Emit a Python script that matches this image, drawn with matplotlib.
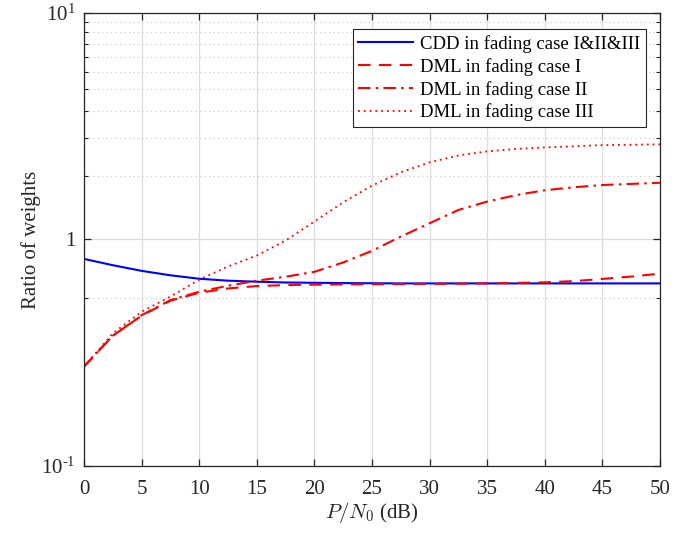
import numpy as np
import matplotlib
matplotlib.use('Agg')
import matplotlib.pyplot as plt
from matplotlib.ticker import FixedLocator

# values
snr_db = [0, 2.5, 5, 7.5, 10, 12.5, 15, 17.5, 20, 22.5, 25,
          27.5, 30, 32.5, 35, 37.5, 40, 42.5, 45, 47.5, 50]

cdd_all = [0.821, 0.770, 0.727, 0.695, 0.671, 0.658, 0.651, 0.646, 0.644, 0.642, 0.641,
           0.640, 0.640, 0.640, 0.640, 0.640, 0.640, 0.640, 0.640, 0.640, 0.640]
dml_case1 = [0.275, 0.376, 0.461, 0.537, 0.582, 0.608, 0.623, 0.629, 0.632, 0.634, 0.635,
             0.636, 0.637, 0.638, 0.640, 0.643, 0.647, 0.655, 0.670, 0.686, 0.707]
dml_case2 = [0.275, 0.376, 0.463, 0.540, 0.588, 0.625, 0.658, 0.685, 0.720, 0.792, 0.891,
             1.03, 1.18, 1.35, 1.47, 1.57, 1.65, 1.70, 1.74, 1.76, 1.78]
dml_case3 = [0.275, 0.385, 0.480, 0.560, 0.665, 0.760, 0.850, 0.990, 1.20, 1.46, 1.73,
             1.98, 2.19, 2.35, 2.45, 2.51, 2.55, 2.58, 2.61, 2.62, 2.63]

labels = ['CDD in fading case I&II&III', 'DML in fading case I',
          'DML in fading case II', 'DML in fading case III']

y_major = [0.1, 1, 10]
y_major_labels = [r'$\mathregular{10^{\text{-}1}}$', '1', r'$\mathregular{10^{1}}$']
# minor ticks as they appear in the original (linear between majors)
y_minor = [0.55, 1.9, 2.8, 3.7, 4.6, 5.5, 6.4, 7.3, 8.2, 9.1]

plt.rcParams['font.family'] = ['Liberation Serif', 'DejaVu Serif']
plt.rcParams['mathtext.fontset'] = 'stix'

fig = plt.figure(figsize=(6.92, 5.34), dpi=100)
ax = fig.add_axes([0.1214, 0.1273, 0.8324, 0.8484])

ax.plot(snr_db, cdd_all, color='#0000ff', lw=1.5, ls='-', label=labels[0])
ax.plot(snr_db, dml_case1, color='#ff0000', lw=1.5, ls=(0, (6, 4)), label=labels[1])
ax.plot(snr_db, dml_case2, color='#ff0000', lw=1.5, ls=(0, (6, 2.5, 1.2, 2.5)), label=labels[2])
ax.plot(snr_db, dml_case3, color='#ff0000', lw=1.3, ls=(0, (1, 2.2)), label=labels[3])

ax.set_yscale('log')
ax.set_xlim(0, 50)
ax.set_ylim(0.1, 10)
ax.set_xticks(np.arange(0, 51, 5))
ax.yaxis.set_major_locator(FixedLocator(y_major))
ax.set_yticklabels(y_major_labels)
ax.yaxis.set_minor_locator(FixedLocator(y_minor))
ax.yaxis.set_minor_formatter(plt.NullFormatter())

ax.grid(True, which='major', color='#dcdcdc', lw=0.9, ls='-')
ax.grid(True, which='minor', axis='y', color='#c8c8c8', lw=0.8, ls=(0, (1, 3)))
ax.set_axisbelow(True)

ax.tick_params(which='both', direction='in', top=True, right=True, labelsize=15,
               color='#262626', labelcolor='#262626')
ax.tick_params(which='major', length=5, width=0.9)
ax.tick_params(which='minor', length=3, width=0.8)
ax.tick_params(axis='x', which='major', pad=10)
ax.tick_params(axis='y', which='major', pad=6)
for sp in ax.spines.values():
    sp.set_color('#262626')
    sp.set_linewidth(0.9)

ax.set_xlabel(r'$P/N_0$ (dB)', fontsize=15, color='#262626', math_fontfamily='cm', labelpad=1)
ax.set_ylabel('Ratio of weights', fontsize=15, color='#262626', labelpad=0)

leg = ax.legend(loc='upper right', bbox_to_anchor=(0.992, 0.985), fontsize=13.5,
                fancybox=False, framealpha=1, edgecolor='#262626',
                handlelength=2.9, handletextpad=0.4, borderpad=0.3, labelspacing=0.27)
leg.get_frame().set_linewidth(0.8)

fig.savefig('out.png', dpi=100)
